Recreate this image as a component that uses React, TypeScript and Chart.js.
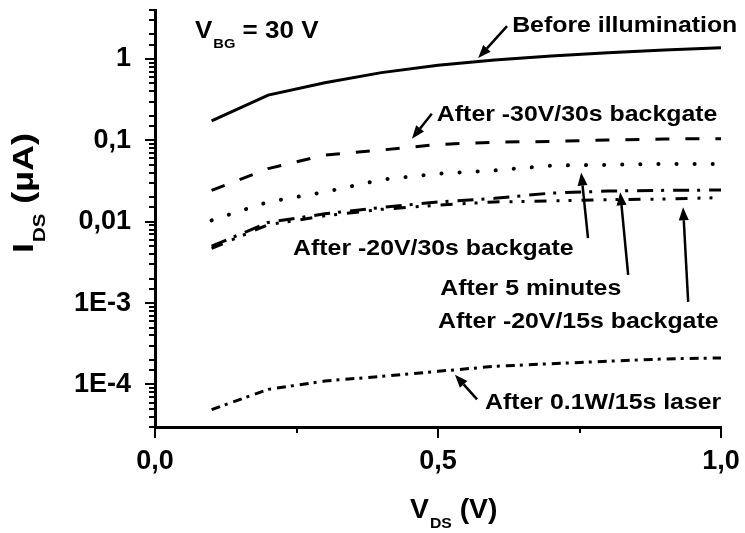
import React, { useEffect, useRef } from 'react';
import { Chart, registerables } from 'chart.js';

Chart.register(...registerables);

// ---------- data ----------
const vds = [0.1, 0.2, 0.3, 0.4, 0.5, 0.6, 0.7, 0.8, 0.9, 1.0];
const beforeIllumination = [0.174, 0.36, 0.51, 0.68, 0.84, 0.97, 1.09, 1.19, 1.29, 1.37];
const after30V30s = [0.0243, 0.045, 0.066, 0.076, 0.089, 0.095, 0.097, 0.101, 0.104, 0.105];
const after20V30s = [0.0104, 0.0175, 0.0232, 0.0328, 0.039, 0.0427, 0.049, 0.05, 0.0515, 0.051];
const after5min = [0.005, 0.0098, 0.0125, 0.015, 0.0175, 0.0194, 0.0225, 0.0238, 0.0243, 0.0245];
const after20V15s = [0.0047, 0.0092, 0.0118, 0.0142, 0.016, 0.0175, 0.018, 0.0187, 0.019, 0.0198];
const afterLaser = [4.9e-5, 8.7e-5, 1.1e-4, 1.26e-4, 1.45e-4, 1.67e-4, 1.8e-4, 1.93e-4, 2.06e-4, 2.12e-4];

const xTickValues = [0, 0.25, 0.5, 0.75, 1];
const xTickLabels = ['0,0', '', '0,5', '', '1,0'];
const yDecades = [1, 0.1, 0.01, 1e-3, 1e-4];
const yDecadeLabels = ['1', '0,1', '0,01', '1E-3', '1E-4'];

const seriesNames = [
  'Before illumination',
  'After -30V/30s backgate',
  'After -20V/30s backgate',
  'After 5 minutes',
  'After -20V/15s backgate',
  'After 0.1W/15s laser',
];

// ---------- layout / style ----------
const FONT = '"Liberation Sans", Arial, Helvetica, sans-serif';
const SX = 1.13;
const W = 745;
const H = 533;

type Note = { text: string; tx: number; ty: number; from: [number, number]; to: [number, number] };
const notes: Note[] = [
  { text: seriesNames[0], tx: 0.631, ty: 2.14, from: [0.622, 2.53], to: [0.571, 1.03] },
  { text: seriesNames[1], tx: 0.498, ty: 0.1745, from: [0.489, 0.212], to: [0.454, 0.105] },
  { text: seriesNames[2], tx: 0.244, ty: 0.00389, from: [0.765, 0.00628], to: [0.753, 0.0403] },
  { text: seriesNames[3], tx: 0.504, ty: 0.00126, from: [0.836, 0.00222], to: [0.822, 0.023] },
  { text: seriesNames[4], tx: 0.5, ty: 0.000498, from: [0.942, 0.001035], to: [0.933, 0.01504] },
  { text: seriesNames[5], tx: 0.583, ty: 4.94e-5, from: [0.569, 6.56e-5], to: [0.53, 1.32e-4] },
];

function isDecade(v: number) {
  const l = Math.log10(v);
  return Math.abs(l - Math.round(l)) < 1e-6;
}

function drawText(ctx: CanvasRenderingContext2D, text: string, x: number, y: number, size: number, sx = SX) {
  ctx.save();
  ctx.translate(x, y);
  ctx.scale(sx, 1);
  ctx.font = `bold ${size}px ${FONT}`;
  ctx.textAlign = 'left';
  ctx.textBaseline = 'alphabetic';
  ctx.fillText(text, 0, 0);
  const w = ctx.measureText(text).width * sx;
  ctx.restore();
  return w;
}

function drawArrow(ctx: CanvasRenderingContext2D, x1: number, y1: number, x2: number, y2: number) {
  const ang = Math.atan2(y2 - y1, x2 - x1);
  const hl = 13;
  const hw = 5;
  const bx = x2 - hl * Math.cos(ang);
  const by = y2 - hl * Math.sin(ang);
  ctx.beginPath();
  ctx.moveTo(x1, y1);
  ctx.lineTo(bx, by);
  ctx.lineWidth = 2.5;
  ctx.stroke();
  ctx.beginPath();
  ctx.moveTo(x2, y2);
  ctx.lineTo(bx + hw * Math.sin(ang), by - hw * Math.cos(ang));
  ctx.lineTo(bx - hw * Math.sin(ang), by + hw * Math.cos(ang));
  ctx.closePath();
  ctx.fill();
}

const decoPlugin = {
  id: 'deco',
  afterDraw(chart: any) {
    const ctx: CanvasRenderingContext2D = chart.ctx;
    const xs = chart.scales.x;
    const ys = chart.scales.y;
    const ca = chart.chartArea;
    ctx.save();
    ctx.strokeStyle = '#000';
    ctx.fillStyle = '#000';
    ctx.lineCap = 'butt';

    // y tick marks
    ctx.lineWidth = 2;
    ys.ticks.forEach((t: any) => {
      const p = Math.round(ys.getPixelForValue(t.value));
      const len = isDecade(t.value) ? 10 : 6;
      ctx.beginPath();
      ctx.moveTo(ca.left - len, p);
      ctx.lineTo(ca.left, p);
      ctx.stroke();
    });
    // x tick marks
    xs.ticks.forEach((t: any) => {
      const p = Math.round(xs.getPixelForValue(t.value));
      const idx = xTickValues.findIndex((v) => Math.abs(v - t.value) < 1e-9);
      const len = idx >= 0 && xTickLabels[idx] ? 11 : 6;
      ctx.beginPath();
      ctx.moveTo(p, ca.bottom);
      ctx.lineTo(p, ca.bottom + len);
      ctx.stroke();
    });

    // x axis title  V_DS (V)
    {
      let x = ca.left + 255;
      const y = ca.bottom + 91;
      x += drawText(ctx, 'V', x, y, 27, 1.05);
      x += drawText(ctx, 'DS', x + 1, y + 10, 15, 1.05) + 1;
      drawText(ctx, ' (V)', x, y, 27, 1.05);
    }
    // y axis title  I_DS (µA) rotated
    {
      ctx.save();
      ctx.translate(ca.left - 122, ca.bottom - 174);
      ctx.rotate(-Math.PI / 2);
      let x = 0;
      x += drawText(ctx, 'I', x, 0, 30, 1.2);
      x += drawText(ctx, 'DS', x + 1, 12, 17, 1.2) + 1;
      drawText(ctx, ' (µA)', x, 0, 30, 1.2);
      ctx.restore();
    }

    // V_BG = 30 V
    {
      let x = xs.getPixelForValue(0.0707);
      const y = ys.getPixelForValue(1.81);
      x += drawText(ctx, 'V', x, y, 23);
      x += drawText(ctx, 'BG', x + 1, y + 10, 13) + 1;
      drawText(ctx, ' = 30 V', x, y, 23);
    }

    // annotations
    notes.forEach((n) => {
      drawText(ctx, n.text, xs.getPixelForValue(n.tx), ys.getPixelForValue(n.ty), 22);
      drawArrow(
        ctx,
        xs.getPixelForValue(n.from[0]),
        ys.getPixelForValue(n.from[1]),
        xs.getPixelForValue(n.to[0]),
        ys.getPixelForValue(n.to[1])
      );
    });
    ctx.restore();
  },
};

function toPoints(ys: number[]) {
  return vds.map((x, i) => ({ x, y: ys[i] }));
}

export default function App() {
  const ref = useRef<HTMLCanvasElement | null>(null);

  useEffect(() => {
    if (!ref.current) return;
    const tickFont = { family: FONT, size: 27, weight: 'bold' as const };
    const line = (label: string, data: number[], dash: number[], width = 3, cap: any = 'butt') => ({
      label,
      data: toPoints(data),
      borderColor: '#000',
      backgroundColor: '#000',
      borderWidth: width,
      borderDash: dash,
      borderCapStyle: cap,
      pointRadius: 0,
      fill: false,
      tension: 0,
    });
    const chart = new Chart(ref.current, {
      type: 'line',
      data: {
        datasets: [
          line(seriesNames[0], beforeIllumination, []),
          line(seriesNames[1], after30V30s, [14, 16]),
          line(seriesNames[2], after20V30s, [0.1, 18], 4, 'round'),
          line(seriesNames[3], after5min, [16, 8, 3, 9]),
          line(seriesNames[4], after20V15s, [12, 10, 3, 9, 3, 10]),
          line(seriesNames[5], afterLaser, [9, 5, 3, 6]),
        ],
      },
      options: {
        animation: false,
        responsive: false,
        devicePixelRatio: 1,
        layout: { padding: { top: 10, right: 24, left: 0, bottom: 0 } },
        plugins: { legend: { display: false }, tooltip: { enabled: false }, title: { display: false } },
        events: [],
        scales: {
          x: {
            type: 'linear',
            min: 0,
            max: 1,
            ticks: {
              stepSize: 0.25,
              autoSkip: false,
              maxRotation: 0,
              padding: 8,
              color: '#000',
              font: tickFont,
              callback: (v: any) => {
                const idx = xTickValues.findIndex((t) => Math.abs(t - Number(v)) < 1e-9);
                return idx >= 0 ? xTickLabels[idx] : '';
              },
            },
            grid: {
              display: true,
              drawOnChartArea: false,
              drawTicks: true,
              tickLength: 10,
              color: 'rgba(0,0,0,0)',
              tickColor: 'rgba(0,0,0,0)',
            },
            border: { display: true, color: '#000', width: 3 },
            afterFit: (s: any) => {
              s.height = 106;
              s.paddingLeft = 0;
              s.paddingRight = 0;
            },
          },
          y: {
            type: 'logarithmic',
            min: 3e-5,
            max: 4,
            ticks: {
              autoSkip: false,
              padding: 14,
              color: '#000',
              font: tickFont,
              callback: (v: any) => {
                const idx = yDecades.findIndex((d) => Math.abs(Math.log10(d) - Math.log10(Number(v))) < 1e-6);
                return idx >= 0 ? yDecadeLabels[idx] : '';
              },
            },
            grid: {
              display: true,
              drawOnChartArea: false,
              drawTicks: true,
              tickLength: 10,
              color: 'rgba(0,0,0,0)',
              tickColor: 'rgba(0,0,0,0)',
            },
            border: { display: true, color: '#000', width: 3 },
            afterFit: (s: any) => {
              s.width = 155;
              s.paddingTop = 0;
              s.paddingBottom = 0;
            },
          },
        },
      },
      plugins: [decoPlugin],
    } as any);
    return () => chart.destroy();
  }, []);

  return (
    <div style={{ position: 'fixed', left: 0, top: 0, width: W, height: H }}>
      <canvas ref={ref} width={W} height={H} style={{ display: 'block' }} />
    </div>
  );
}
